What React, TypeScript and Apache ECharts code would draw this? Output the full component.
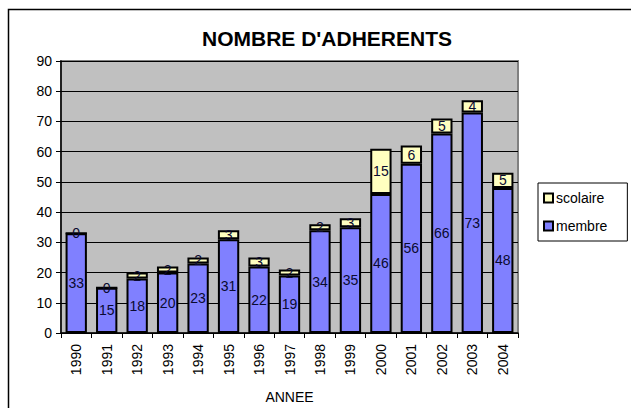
import React, { useEffect, useRef } from "react";
import * as echarts from "echarts";

const years = ["1990", "1991", "1992", "1993", "1994", "1995", "1996", "1997", "1998", "1999", "2000", "2001", "2002", "2003", "2004"];
const membre = [33, 15, 18, 20, 23, 31, 22, 19, 34, 35, 46, 56, 66, 73, 48];
const scolaire = [0, 0, 2, 2, 2, 3, 3, 2, 2, 3, 15, 6, 5, 4, 5];

const FONT = "'Liberation Sans', Arial, sans-serif";

export default function App() {
  const ref = useRef<HTMLDivElement>(null);
  useEffect(() => {
    if (!ref.current) return;
    const chart = echarts.init(ref.current, undefined, { renderer: "svg" });
    const labelStyle = {
      show: true,
      position: "inside" as const,
      color: "#0a0a30",
      fontSize: 14,
      fontFamily: FONT,
    };
    chart.setOption({
      animation: false,
      backgroundColor: "#ffffff",
      textStyle: { fontFamily: FONT },
      title: {
        text: "NOMBRE D'ADHERENTS",
        left: 322,
        top: 23,
        textAlign: "center",
        textStyle: { fontSize: 21, fontWeight: "bold", color: "#000", fontFamily: FONT },
      },
      graphic: [
        {
          type: "rect",
          shape: { x: 8.5, y: 9.5, width: 700, height: 500 },
          style: { fill: "none", stroke: "#000", lineWidth: 1.5 },
          silent: true,
        },
      ],
      legend: {
        orient: "vertical",
        left: 538,
        top: 183,
        data: ["scolaire", "membre"],
        itemWidth: 9,
        itemHeight: 9,
        itemGap: 14,
        padding: [8, 20, 8, 5],
        borderColor: "#000",
        borderWidth: 1,
        backgroundColor: "#fff",
        textStyle: { fontSize: 14, color: "#000", fontFamily: FONT, padding: [0, 0, 0, -2] },
        icon: "rect",
      },
      grid: {
        left: 61,
        right: 113,
        top: 61,
        bottom: 75,
        outerBoundsMode: "none",
        containLabel: false,
        show: true,
        backgroundColor: "#C0C0C0",
        borderColor: "#808080",
        borderWidth: 2,
      },
      xAxis: {
        type: "category",
        data: years,
        name: "ANNEE",
        nameLocation: "middle",
        nameGap: 57,
        nameTextStyle: { fontSize: 14, color: "#000", fontFamily: FONT },
        axisLine: { show: true, lineStyle: { color: "#000", width: 1.5 } },
        axisTick: { show: true, length: 5, lineStyle: { color: "#000" } },
        axisLabel: { rotate: 90, fontSize: 14, color: "#000", margin: 11, interval: 0, fontFamily: FONT },
      },
      yAxis: {
        type: "value",
        min: 0,
        max: 90,
        interval: 10,
        axisLine: { show: true, lineStyle: { color: "#000", width: 1.5 } },
        axisTick: { show: true, length: 5, lineStyle: { color: "#000" } },
        axisLabel: { fontSize: 14, color: "#000", margin: 9, fontFamily: FONT },
        splitLine: { show: true, lineStyle: { color: "#000", width: 1 } },
      },
      series: [
        {
          name: "membre",
          type: "bar",
          stack: "total",
          data: membre,
          barCategoryGap: "30%",
          itemStyle: { color: "#8080FF", borderColor: "#000", borderWidth: 2 },
          label: labelStyle,
        },
        {
          name: "scolaire",
          type: "bar",
          stack: "total",
          data: scolaire,
          barCategoryGap: "30%",
          itemStyle: { color: "#FFFFC0", borderColor: "#000", borderWidth: 2 },
          label: labelStyle,
        },
      ],
    });
    return () => chart.dispose();
  }, []);
  return (
    <div
      ref={ref}
      style={{ position: "absolute", left: 0, top: 0, width: 631, height: 408 }}
    />
  );
}
